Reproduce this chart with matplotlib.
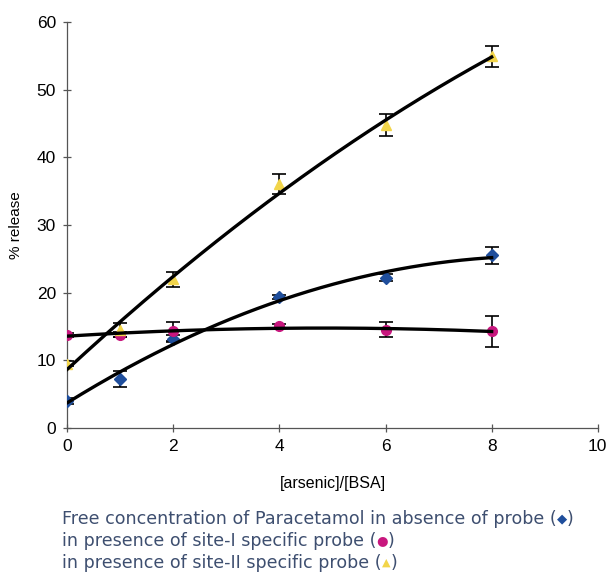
import numpy as np
import matplotlib
matplotlib.use("Agg")
import matplotlib.pyplot as plt

# Datos
ratio = [0, 1, 2, 4, 6, 8]

ausencia = [4.0, 7.2, 13.2, 19.3, 22.2, 25.5]
ausencia_err = [0.4, 1.2, 0.5, 0.3, 0.5, 1.3]

sitio1 = [13.7, 13.8, 14.3, 15.0, 14.5, 14.3]
sitio1_err = [0.3, 0.4, 1.4, 0.3, 1.1, 2.3]

sitio2 = [9.5, 14.5, 22.0, 36.0, 44.8, 54.9]
sitio2_err = [0.4, 1.0, 1.1, 1.5, 1.6, 1.6]

x_ticks = [0, 2, 4, 6, 8, 10]
y_ticks = [0, 10, 20, 30, 40, 50, 60]

c_azul = "#1f4e9c"
c_rosa = "#c8177e"
c_amar = "#f2d54a"
c_texto = "#3e4f70"

fig = plt.figure(figsize=(6.1, 5.76), dpi=100)
ax = fig.add_axes([0.110, 0.257, 0.870, 0.705])

series = [
    (ausencia, ausencia_err, c_azul, "D", 6),
    (sitio1, sitio1_err, c_rosa, "o", 7),
    (sitio2, sitio2_err, c_amar, "^", 7),
]

xs = np.linspace(0, 8, 200)
for vals, err, color, mk, ms in series:
    ax.errorbar(ratio, vals, yerr=err, fmt="none", ecolor="black",
                elinewidth=1.2, capsize=5, capthick=1.2, zorder=2)
    ax.plot(ratio, vals, linestyle="none", marker=mk, markersize=ms,
            color=color, zorder=3)
    # linea de tendencia polinomial (como Excel)
    coef = np.polyfit(ratio, vals, 2)
    ax.plot(xs, np.polyval(coef, xs), color="black", linewidth=2.4, zorder=4)

ax.set_xlim(0, 10)
ax.set_ylim(0, 60)
ax.set_xticks(x_ticks)
ax.set_yticks(y_ticks)
for s in ["top", "right"]:
    ax.spines[s].set_visible(False)
for s in ["left", "bottom"]:
    ax.spines[s].set_color("#555555")
    ax.spines[s].set_linewidth(0.9)
ax.tick_params(direction="inout", length=6, width=0.9, color="#555555",
               labelsize=12.5, pad=5)
for lab in ax.get_xticklabels() + ax.get_yticklabels():
    lab.set_family("Liberation Sans")

ax.set_xlabel("[arsenic]/[BSA]", fontsize=11.5, family="Liberation Sans", labelpad=16)
ax.set_ylabel("% release", fontsize=11, family="Liberation Sans", labelpad=10)

# Pie de figura con simbolos de color
lineas = [
    ("Free concentration of Paracetamol in absence of probe (", "\u25c6", c_azul),
    ("in presence of site-I specific probe (", "\u25cf", c_rosa),
    ("in presence of site-II specific probe (", "\u25b2", c_amar),
]
fig.canvas.draw()
r = fig.canvas.get_renderer()
y0 = 1 - 519 / 576
for i, (txt, sym, col) in enumerate(lineas):
    y = y0 - i * 22 / 576
    t = fig.text(62 / 610, y, txt, fontsize=12.6, color=c_texto,
                 family="DejaVu Sans", va="center", ha="left")
    bb = t.get_window_extent(r)
    x1 = bb.x1 / fig.bbox.width
    s = fig.text(x1, y, sym, fontsize=9.5 if sym != "\u25b2" else 8, color=col,
                 family="DejaVu Sans", va="center", ha="left")
    bb2 = s.get_window_extent(r)
    fig.text(bb2.x1 / fig.bbox.width, y, ")", fontsize=12.6, color=c_texto,
             family="DejaVu Sans", va="center", ha="left")

fig.savefig("out.png", dpi=100)
